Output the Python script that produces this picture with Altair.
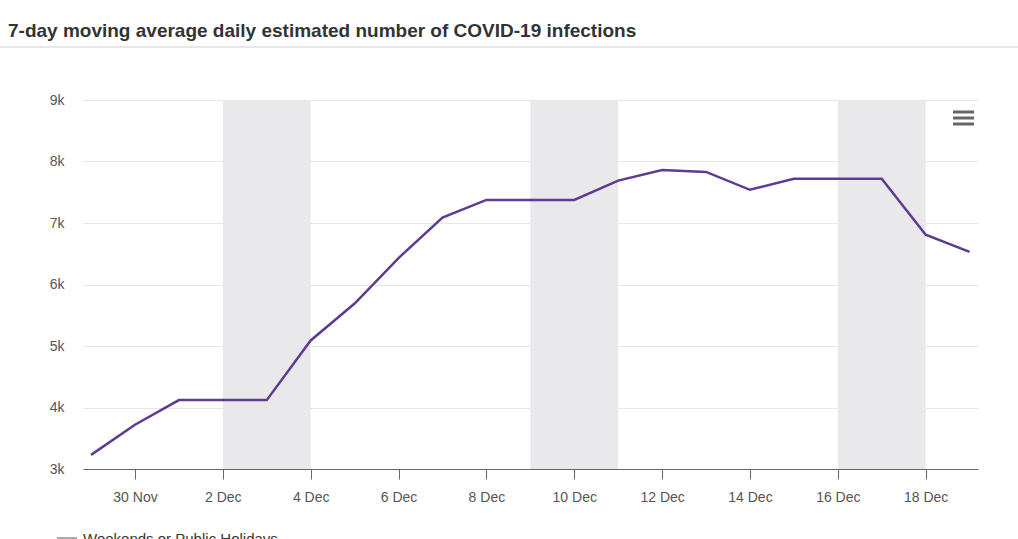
import altair as alt
import pandas as pd

title_text = "7-day moving average daily estimated number of COVID-19 infections"
legend_text = "Weekends or Public Holidays"

dates = pd.date_range("2022-11-29", "2022-12-19", freq="D").strftime("%Y-%m-%d").tolist()
values = [3230, 3720, 4120, 4120, 4120, 5090, 5690, 6430, 7090, 7375, 7375, 7375,
          7690, 7860, 7830, 7540, 7720, 7720, 7720, 6810, 6530]

band_start = ["2022-12-02", "2022-12-09", "2022-12-16"]
band_end = ["2022-12-04", "2022-12-11", "2022-12-18"]

tick_dates = ["2022-11-30", "2022-12-02", "2022-12-04", "2022-12-06", "2022-12-08",
              "2022-12-10", "2022-12-12", "2022-12-14", "2022-12-16", "2022-12-18"]

FONT = "Liberation Sans"
W, H = 895, 369

df = pd.DataFrame({"date": dates, "value": values})
bands = pd.DataFrame({"start": band_start, "end": band_end, "lo": [3000] * 3, "hi": [9000] * 3})

def dt(s, h=0, m=0):
    y, mo, d = [int(p) for p in s.split("-")]
    return alt.DateTime(year=y, month=mo, date=d, hours=h, minutes=m, utc=True)

xscale = alt.Scale(type="utc", domain=[dt("2022-11-28", 19, 36), dt("2022-12-19", 4, 36)])
yscale = alt.Scale(domain=[3000, 9000], nice=False, zero=False)

xaxis = alt.Axis(values=[dt(s) for s in tick_dates],
                 labelExpr="utcFormat(datum.value, '%-d %b')",
                 title=None, grid=False, domainColor="#666666", tickColor="#666666",
                 tickSize=10, labelFontSize=14, labelColor="#555555", labelFont=FONT,
                 labelPadding=11)
yaxis = alt.Axis(values=[3000, 4000, 5000, 6000, 7000, 8000, 9000], format="~s",
                 title=None, domain=False, ticks=False, grid=True, gridColor="#e6e6e6",
                 labelFontSize=14, labelColor="#555555", labelFont=FONT, labelPadding=19)

band_layer = alt.Chart(bands).mark_rect(color="#e9e9ec").encode(
    x=alt.X("start:T", scale=xscale, axis=xaxis),
    x2="end:T",
    y=alt.Y("lo:Q", scale=yscale, axis=yaxis),
    y2="hi:Q",
)

line_layer = alt.Chart(df).mark_line(color="#5f3a92", strokeWidth=2.5).encode(
    x=alt.X("date:T", scale=xscale, axis=xaxis),
    y=alt.Y("value:Q", scale=yscale, axis=yaxis),
)

title_layer = alt.Chart(pd.DataFrame({"t": [title_text]})).mark_text(
    align="left", baseline="alphabetic", font=FONT, fontSize=19, fontWeight="bold", color="#333333"
).encode(x=alt.value(-75), y=alt.value(-63), text="t:N")

sep_layer = alt.Chart(pd.DataFrame({"a": [0]})).mark_rule(color="#d0d0d0", strokeWidth=1).encode(
    x=alt.value(-83), x2=alt.value(935), y=alt.value(-53)
)

menu_layer = alt.Chart(pd.DataFrame({"yy": [12, 18, 24]})).mark_rule(color="#666666", strokeWidth=3).encode(
    x=alt.value(870), x2=alt.value(891), y=alt.Y("yy:Q", scale=None)
)

legend_sym = alt.Chart(pd.DataFrame({"a": [0]})).mark_rule(color="#aaaaaa", strokeWidth=2).encode(
    x=alt.value(-26), x2=alt.value(-6), y=alt.value(438)
)
legend_txt = alt.Chart(pd.DataFrame({"t": [legend_text]})).mark_text(
    align="left", baseline="alphabetic", font=FONT, fontSize=15, color="#333333"
).encode(x=alt.value(0), y=alt.value(444), text="t:N")

chart = alt.layer(band_layer, line_layer, title_layer, sep_layer, menu_layer, legend_sym, legend_txt).properties(
    width=W, height=H, autosize="none",
    padding={"left": 83, "top": 100, "right": 40, "bottom": 70},
    background="white",
).configure_view(stroke=None)

chart.save("out.html", embed_options={"renderer": "svg", "actions": False})
